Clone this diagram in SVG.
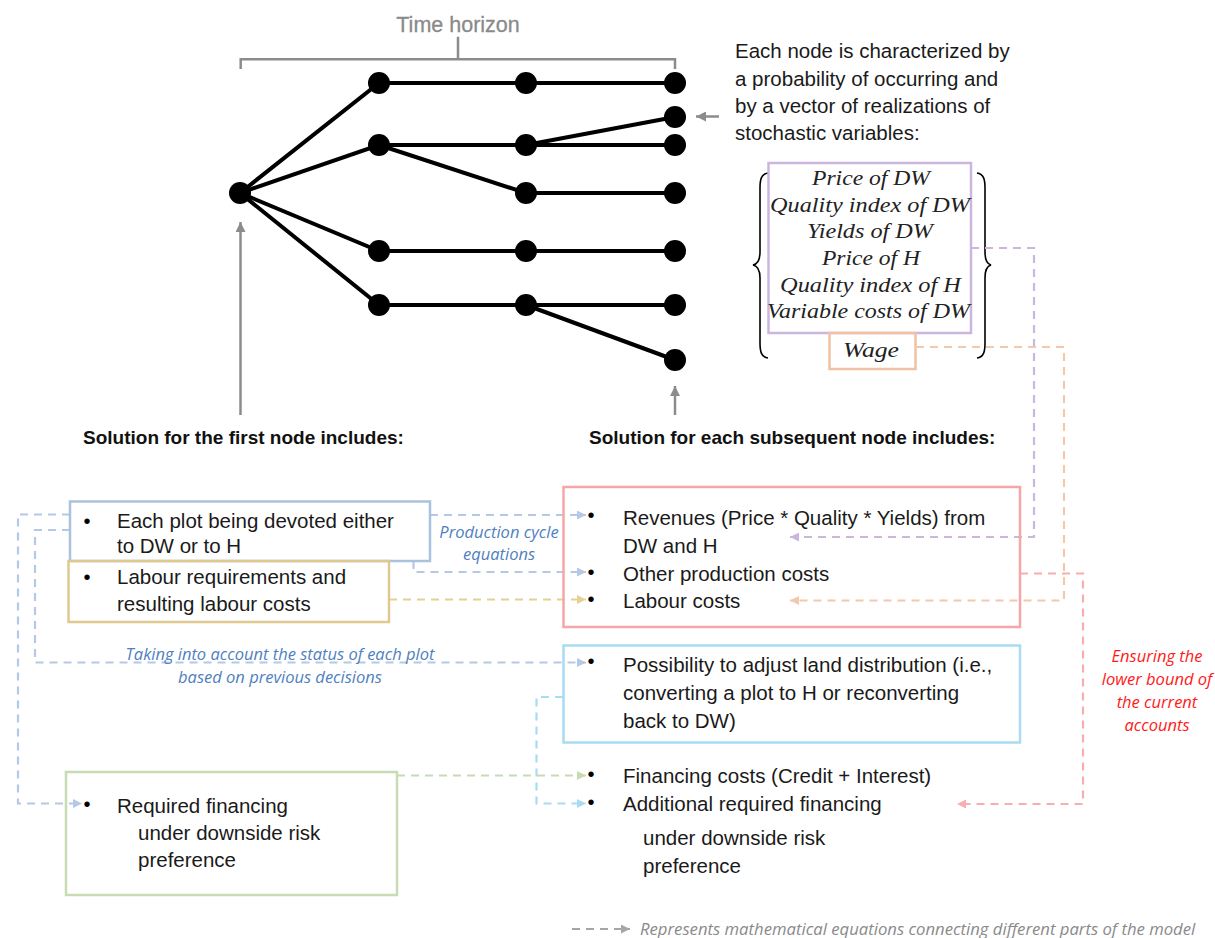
<svg xmlns="http://www.w3.org/2000/svg" width="1215" height="938" viewBox="0 0 1215 938">
<style>
.t{font-family:"Liberation Sans",Arial,sans-serif;font-size:20.5px;fill:#1a1a1a}
.bul{font-family:"Liberation Sans",Arial,sans-serif;font-size:20px;fill:#000;text-anchor:middle}
.bd{font-family:"Liberation Sans",Arial,sans-serif;font-size:19px;font-weight:bold;fill:#111}
.m{font-family:"Liberation Serif","Times New Roman",serif;font-style:italic;font-size:22px;fill:#222}
.lb{font-family:"Open Sans","Noto Sans",sans-serif;font-style:italic;font-size:16.5px;fill:#4f7fc0;text-anchor:middle}
.rd{font-family:"Open Sans","Noto Sans",sans-serif;font-style:italic;font-size:16.5px;fill:#ff1a1a;text-anchor:middle}
.lg{font-family:"Open Sans","Noto Sans",sans-serif;font-style:italic;font-size:16.7px;fill:#8a8a8a}
.edge{stroke:#000;stroke-width:4;fill:none}
.nd{fill:#000}
.box{fill:none;stroke-width:2.5}
.dash{fill:none;stroke-width:2.2;stroke-dasharray:8 6}
.gr{stroke:#8c8c8c;stroke-width:2.5;fill:none}
</style>
<defs>
<marker id="aBlue" markerUnits="userSpaceOnUse" markerWidth="10" markerHeight="9" refX="9" refY="4.5" orient="auto"><path d="M0,0 L9,4.5 L0,9 z" fill="#b4c9e6"/></marker>
<marker id="aYel" markerUnits="userSpaceOnUse" markerWidth="10" markerHeight="9" refX="9" refY="4.5" orient="auto"><path d="M0,0 L9,4.5 L0,9 z" fill="#e5d293"/></marker>
<marker id="aGrn" markerUnits="userSpaceOnUse" markerWidth="10" markerHeight="9" refX="9" refY="4.5" orient="auto"><path d="M0,0 L9,4.5 L0,9 z" fill="#c8dcb3"/></marker>
<marker id="aCya" markerUnits="userSpaceOnUse" markerWidth="10" markerHeight="9" refX="9" refY="4.5" orient="auto"><path d="M0,0 L9,4.5 L0,9 z" fill="#a8dcf2"/></marker>
<marker id="aPur" markerUnits="userSpaceOnUse" markerWidth="10" markerHeight="9" refX="9" refY="4.5" orient="auto"><path d="M0,0 L9,4.5 L0,9 z" fill="#cbb6e0"/></marker>
<marker id="aOra" markerUnits="userSpaceOnUse" markerWidth="10" markerHeight="9" refX="9" refY="4.5" orient="auto"><path d="M0,0 L9,4.5 L0,9 z" fill="#f2c9ad"/></marker>
<marker id="aRed" markerUnits="userSpaceOnUse" markerWidth="10" markerHeight="9" refX="9" refY="4.5" orient="auto"><path d="M0,0 L9,4.5 L0,9 z" fill="#f8aeae"/></marker>
<marker id="aGry" markerUnits="userSpaceOnUse" markerWidth="10" markerHeight="9" refX="9" refY="4.5" orient="auto"><path d="M0,0 L9,4.5 L0,9 z" fill="#a6a6a6"/></marker>
<marker id="aG" markerUnits="userSpaceOnUse" markerWidth="12" markerHeight="10" refX="10" refY="5" orient="auto"><path d="M0,0 L10,5 L0,10 z" fill="#8c8c8c"/></marker>
</defs>

<!-- Time horizon -->
<g id="time-horizon">
<path class="gr" d="M240.7,69 V59.3 H675 V69 M458,59.3 V36.7" stroke="#9a9a9a"/>
<text x="458" y="32" text-anchor="middle" style="font-family:'Liberation Sans',Arial,sans-serif;font-size:21.5px;fill:#8a8a8a;stroke:#8a8a8a;stroke-width:0.3">Time horizon</text>
</g>

<!-- Scenario tree -->
<g id="tree">
<g id="tree-edges">
<path class="edge" d="M240,193 L379,83 L526,83 L675,83"/>
<path class="edge" d="M240,193 L379,145 L526,145 L675,145 M526,145 L675,117"/>
<path class="edge" d="M379,145 L526,193 L675,193"/>
<path class="edge" d="M240,193 L379,251 L526,251 L675,251"/>
<path class="edge" d="M240,193 L379,305 L526,305 L675,305 M526,305 L675,360"/>
</g>
<g id="tree-nodes">
<circle class="nd" cx="240" cy="193" r="11"/>
<circle class="nd" cx="379" cy="83" r="11"/>
<circle class="nd" cx="379" cy="145" r="11"/>
<circle class="nd" cx="379" cy="251" r="11"/>
<circle class="nd" cx="379" cy="305" r="11"/>
<circle class="nd" cx="526" cy="83" r="11"/>
<circle class="nd" cx="526" cy="145" r="11"/>
<circle class="nd" cx="526" cy="193" r="11"/>
<circle class="nd" cx="526" cy="251" r="11"/>
<circle class="nd" cx="526" cy="305" r="11"/>
<circle class="nd" cx="675" cy="83" r="11"/>
<circle class="nd" cx="675" cy="117" r="11"/>
<circle class="nd" cx="675" cy="145" r="11"/>
<circle class="nd" cx="675" cy="193" r="11"/>
<circle class="nd" cx="675" cy="251" r="11"/>
<circle class="nd" cx="675" cy="305" r="11"/>
<circle class="nd" cx="675" cy="360" r="11"/>
</g>
</g>

<!-- gray pointer arrows -->
<g id="pointers">
<line class="gr" x1="240.5" y1="415" x2="240.5" y2="222" marker-end="url(#aG)"/>
<line class="gr" x1="675" y1="415" x2="675" y2="386" marker-end="url(#aG)"/>
<line class="gr" x1="719" y1="116.5" x2="696" y2="116.5" marker-end="url(#aG)"/>
</g>

<g id="node-description">
<text class="t" x="735" y="58">Each node is characterized by</text>
<text class="t" x="735" y="86">a probability of occurring and</text>
<text class="t" x="735" y="113">by a vector of realizations of</text>
<text class="t" x="735" y="140">stochastic variables:</text>
</g>

<g id="vector">
<path d="M768,173 C761,174 760,180 760,188 L760,252 C760,260 758,264 753,265 C758,266 760,270 760,278 L760,343 C760,351 761,357 768,358" fill="none" stroke="#000" stroke-width="1.6"/>
<path d="M977,173 C984,174 985,180 985,188 L985,252 C985,260 987,264 991,265 C987,266 985,270 985,278 L985,343 C985,351 984,357 977,358" fill="none" stroke="#000" stroke-width="1.6"/>
<g id="stochastic-box">
<rect class="box" x="768.5" y="163" width="202.5" height="170" stroke="#cbb6e0"/>
<text class="m" x="812" y="185" textLength="118" lengthAdjust="spacingAndGlyphs">Price of DW</text>
<text class="m" x="770" y="212" textLength="200" lengthAdjust="spacingAndGlyphs">Quality index of DW</text>
<text class="m" x="807" y="238" textLength="126" lengthAdjust="spacingAndGlyphs">Yields of DW</text>
<text class="m" x="822" y="265" textLength="98" lengthAdjust="spacingAndGlyphs">Price of H</text>
<text class="m" x="780" y="292" textLength="181" lengthAdjust="spacingAndGlyphs">Quality index of H</text>
<text class="m" x="767" y="318" textLength="203" lengthAdjust="spacingAndGlyphs">Variable costs of DW</text>
</g>
<g id="wage-box">
<rect class="box" x="829.5" y="333" width="86" height="36" stroke="#f0c2a3"/>
<text class="m" x="843" y="357" textLength="56" lengthAdjust="spacingAndGlyphs">Wage</text>
</g>
</g>

<g id="headings">
<text class="bd" x="83" y="444">Solution for the first node includes:</text>
<text class="bd" x="589" y="444">Solution for each subsequent node includes:</text>
</g>

<!-- Connectors -->
<g id="connectors">
<path class="dash" stroke="#b4c9e6" d="M430,515 H586" marker-end="url(#aBlue)"/>
<path class="dash" stroke="#b4c9e6" d="M413.5,561 V572 H586" marker-end="url(#aBlue)"/>
<path class="dash" stroke="#e5d293" d="M389,599.5 H586" marker-end="url(#aYel)"/>
<path class="dash" stroke="#b4c9e6" d="M70,514.5 H18 V803.5 H82" marker-end="url(#aBlue)"/>
<path class="dash" stroke="#b4c9e6" d="M70,530 H35 V662.5 H586" marker-end="url(#aBlue)"/>
<path class="dash" stroke="#a8dcf2" d="M563,697 H536.5 V803.5 H586" marker-end="url(#aCya)"/>
<path class="dash" stroke="#c8dcb3" d="M397,775.5 H586" marker-end="url(#aGrn)"/>
<path class="dash" stroke="#cbb6e0" d="M971,248 H1034 V537 H790" marker-end="url(#aPur)"/>
<path class="dash" stroke="#f2c9ad" d="M916,347 H1064 V600.5 H790" marker-end="url(#aOra)"/>
<path class="dash" stroke="#f8aeae" d="M1020,573.5 H1083 V804 H957" marker-end="url(#aRed)"/>
<text class="lb" x="499" y="538">Production cycle</text>
<text class="lb" x="499" y="560">equations</text>
<text class="lb" x="280" y="660">Taking into account the status of each plot</text>
<text class="lb" x="280" y="683">based on previous decisions</text>
<text class="rd" x="1157" y="662">Ensuring the</text>
<text class="rd" x="1157" y="685">lower bound of</text>
<text class="rd" x="1157" y="708">the current</text>
<text class="rd" x="1157" y="731">accounts</text>
</g>

<!-- First node boxes -->
<g id="plot-allocation">
<rect class="box" x="70" y="501.5" width="360" height="59.5" stroke="#abc2de"/>
<text class="bul" x="87" y="528">•</text>
<text class="t" x="117" y="528">Each plot being devoted either</text>
<text class="t" x="117" y="553">to DW or to H</text>
</g>
<g id="labour-requirements">
<rect class="box" x="68.5" y="561" width="320.5" height="61" stroke="#dfc98f"/>
<text class="bul" x="87" y="584">•</text>
<text class="t" x="117" y="584">Labour requirements and</text>
<text class="t" x="117" y="611">resulting labour costs</text>
</g>
<g id="required-financing">
<rect class="box" x="66" y="772" width="331" height="123" stroke="#c8dcb3"/>
<text class="bul" x="87" y="811">•</text>
<text class="t" x="117" y="813">Required financing</text>
<text class="t" x="138" y="840">under downside risk</text>
<text class="t" x="138" y="867">preference</text>
</g>

<!-- Subsequent node boxes -->
<g id="production-accounts">
<rect class="box" x="563.5" y="487" width="456.5" height="140" stroke="#f7a6a6"/>
<text class="bul" x="591" y="522">•</text>
<text class="t" x="623" y="525">Revenues (Price * Quality * Yields) from</text>
<text class="t" x="623" y="553">DW and H</text>
<text class="bul" x="591" y="579">•</text>
<text class="t" x="623" y="581">Other production costs</text>
<text class="bul" x="591" y="606">•</text>
<text class="t" x="623" y="608">Labour costs</text>
</g>
<g id="land-adjustment">
<rect class="box" x="563.5" y="645.5" width="456.5" height="97" stroke="#a8dcf2"/>
<text class="bul" x="591" y="668">•</text>
<text class="t" x="623" y="672">Possibility to adjust land distribution (i.e.,</text>
<text class="t" x="623" y="700">converting a plot to H or reconverting</text>
<text class="t" x="623" y="728">back to DW)</text>
</g>
<g id="financing">
<text class="bul" x="591" y="781">•</text>
<text class="t" x="623" y="783">Financing costs (Credit + Interest)</text>
<text class="bul" x="591" y="809">•</text>
<text class="t" x="623" y="811">Additional required financing</text>
<text class="t" x="643" y="845">under downside risk</text>
<text class="t" x="643" y="873">preference</text>
</g>

<g id="legend">
<path class="dash" stroke="#a6a6a6" d="M572,929 H630" marker-end="url(#aGry)"/>
<text class="lg" x="640" y="935">Represents mathematical equations connecting different parts of the model</text>
</g>
</svg>
